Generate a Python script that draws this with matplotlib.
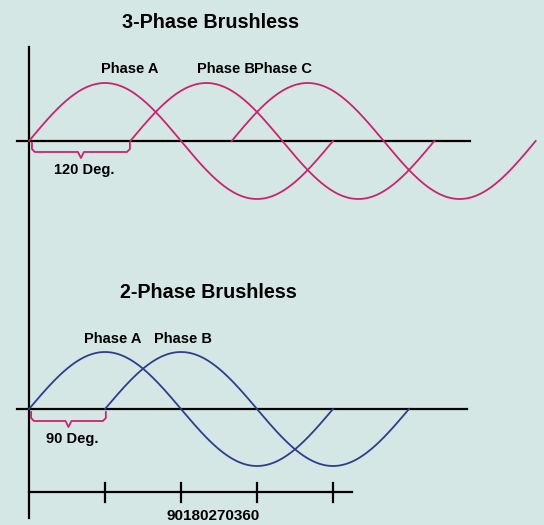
import numpy as np
import matplotlib
matplotlib.use('Agg')
import matplotlib.pyplot as plt
from matplotlib import font_manager

# data
top_phases = ['Phase A', 'Phase B', 'Phase C']
top_offsets = [0, 120, 240]
bottom_phases = ['Phase A', 'Phase B']
bottom_offsets = [0, 90]
tick_degrees = [90, 180, 270, 360]
tick_text = '90180270360'

bg = '#d5e7e4'
pink = '#c8246f'
blue = '#2e3e8f'

names = [f.name for f in font_manager.fontManager.ttflist]
fam = 'Liberation Sans Narrow' if 'Liberation Sans Narrow' in names else 'Liberation Sans'
plt.rcParams['font.family'] = [fam, 'DejaVu Sans']

px_per_deg = 304 / 360
x0 = 29

fig = plt.figure(figsize=(5.44, 5.25), dpi=100, facecolor=bg)
ax = fig.add_axes([0, 0, 1, 1])
ax.set_facecolor(bg)
ax.set_xlim(-x0 / px_per_deg, (544 - x0) / px_per_deg)
ax.set_ylim(525, 0)
ax.axis('off')


def deg(p):
    # picture x pixel -> degrees on the chart
    return (p - x0) / px_per_deg


def brace(xa, xb, ytop, ymid, ytip, color):
    r = 3.5
    xm = (xa + xb) / 2
    xs = [xa, xa, xa + r, xm - r, xm, xm + r, xb - r, xb, xb]
    ys = [ytop, ymid - 3, ymid, ymid, ytip, ymid, ymid, ymid - 3, ytop]
    ax.plot(xs, ys, color=color, lw=1.3, solid_joinstyle='round')


title_fs = 14.2
label_fs = 10.5

# vertical axis
ax.plot([0, 0], [47, 518], color='black', lw=1.6)

# top panel
base1, amp1 = 141, 58
ax.plot([-14, 522], [base1, base1], color='black', lw=1.6)
for off in top_offsets:
    d = np.linspace(off, off + 360, 300)
    ax.plot(d, base1 - amp1 * np.sin(np.radians(d - off)), color=pink, lw=1.3)
ax.text(deg(210), 23, '3-Phase Brushless', ha='center', va='center',
        fontsize=title_fs, fontweight='bold')
top_label_x = [101, 197, 254]
for name, lx in zip(top_phases, top_label_x):
    ax.text(deg(lx), 69, name, ha='left', va='center', fontsize=label_fs, fontweight='bold')
brace(3.5, top_offsets[1] - 0.5, 143, 152, 158, pink)
ax.text(deg(84), 170, '120 Deg.', ha='center', va='center', fontsize=label_fs, fontweight='bold')

# bottom panel
base2, amp2 = 409, 57
ax.plot([-14, 519], [base2, base2], color='black', lw=1.6)
for off in bottom_offsets:
    d = np.linspace(off, off + 360, 300)
    ax.plot(d, base2 - amp2 * np.sin(np.radians(d - off)), color=blue, lw=1.3)
ax.text(deg(208), 293, '2-Phase Brushless', ha='center', va='center',
        fontsize=title_fs, fontweight='bold')
bottom_label_x = [84, 154]
for name, lx in zip(bottom_phases, bottom_label_x):
    ax.text(deg(lx), 339, name, ha='left', va='center', fontsize=label_fs, fontweight='bold')
brace(2.5, bottom_offsets[1] + 1, 412, 421, 427, pink)
ax.text(deg(72), 439, '90 Deg.', ha='center', va='center', fontsize=label_fs, fontweight='bold')

# degree scale
ax.plot([0, 382], [492, 492], color='black', lw=1.6)
for t in tick_degrees:
    ax.plot([t, t], [483, 502], color='black', lw=1.6)
ax.text(deg(213), 516, tick_text, ha='center', va='center', fontsize=11, fontweight='bold')

fig.savefig('out.png', dpi=100, facecolor=bg)
